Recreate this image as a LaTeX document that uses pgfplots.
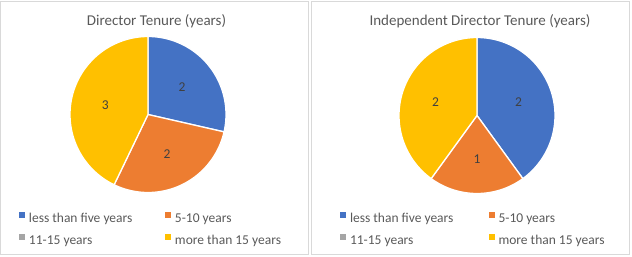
\documentclass[border=0pt]{standalone}
\usepackage{pgfplots}
\pgfplotsset{compat=1.18}
\usepackage{pgfplotstable}
\usepackage{fontspec}
\setmainfont{Carlito}
\definecolor{cBlue}{HTML}{4472C4}
\definecolor{cOrange}{HTML}{ED7D31}
\definecolor{cGray}{HTML}{A5A5A5}
\definecolor{cYellow}{HTML}{FFC000}
\definecolor{txt}{HTML}{595959}
\definecolor{lbl}{HTML}{404040}
\definecolor{frm}{HTML}{D9D9D9}

% Director tenure (all directors)
\pgfplotstableread{
category value
less 2
five 2
eleven 0
more 3
}\tenureall
% Independent director tenure
\pgfplotstableread{
category value
less 2
five 1
eleven 0
more 2
}\tenureindep

\newcommand\getvals[1]{%
  \pgfplotstablegetelem{0}{value}\of#1\edef\vA{\pgfplotsretval}%
  \pgfplotstablegetelem{1}{value}\of#1\edef\vB{\pgfplotsretval}%
  \pgfplotstablegetelem{2}{value}\of#1\edef\vC{\pgfplotsretval}%
  \pgfplotstablegetelem{3}{value}\of#1\edef\vD{\pgfplotsretval}%
  \pgfmathsetmacro\tot{\vA+\vB+\vC+\vD}%
  \pgfmathsetmacro\aA{90}%
  \pgfmathsetmacro\aB{\aA-360*\vA/\tot}%
  \pgfmathsetmacro\aC{\aB-360*\vB/\tot}%
  \pgfmathsetmacro\aD{\aC-360*\vC/\tot}%
  \pgfmathsetmacro\aE{\aD-360*\vD/\tot}%
  \pgfmathsetmacro\mA{(\aA+\aB)/2}%
  \pgfmathsetmacro\mB{(\aB+\aC)/2}%
  \pgfmathsetmacro\mD{(\aD+\aE)/2}%
}

\pgfplotsset{
  piestyle/.style={
    x=78bp, y=78bp, xmin=-1, xmax=1, ymin=-1, ymax=1,
    hide axis, clip=false, anchor=origin,
    legend columns=2,
    legend cell align=left,
    legend image code/.code={\fill[##1,draw=none] (0bp,1bp) rectangle (6bp,7bp);},
    legend style={draw=none, fill=none, inner sep=0pt, outer sep=0pt,
      font=\fontsize{13.5bp}{15bp}\selectfont, text=txt,
      nodes={inner sep=0pt, text height=9.5bp, text depth=3bp},
      row sep=9bp,
      /tikz/every odd column/.append style={column sep=4bp},
      anchor=north west},
  },
  wedge/.style={draw=white, line width=1.3bp, line join=round, samples=90},
}

\newcommand\lbl[2]{\node[font=\fontsize{13.5bp}{15bp}\selectfont, text=lbl] at (axis cs:{0.56*cos(#1)},{0.56*sin(#1)}) {#2};}

\begin{document}
\begin{tikzpicture}
\path (0bp,0bp) rectangle (632bp,-257bp);
\draw[frm, line width=0.8bp] (0.5bp,-1bp) rectangle (308.5bp,-254.5bp);
\draw[frm, line width=0.8bp] (311.5bp,-1bp) rectangle (629bp,-254.5bp);

\node[font=\fontsize{15bp}{18bp}\selectfont, text=txt, anchor=base] at (156.5bp,-25bp) {Director Tenure (years)};
\node[font=\fontsize{15bp}{18bp}\selectfont, text=txt, anchor=base] at (480bp,-25bp) {Independent Director Tenure (years)};

\getvals{\tenureall}
\begin{axis}[piestyle, at={(148bp,-114.5bp)},
  legend style={at={(axis cs:-1.654,-1.25)}}]
\addplot[wedge, fill=cBlue, domain=\aB:\aA] ({cos(x)},{sin(x)}) -- (axis cs:0,0) -- cycle;
\addlegendentry{\makebox[136bp][l]{less than five years}}
\addplot[wedge, fill=cOrange, domain=\aC:\aB] ({cos(x)},{sin(x)}) -- (axis cs:0,0) -- cycle;
\addlegendentry{5-10 years}
\addlegendimage{fill=cGray}
\addlegendentry{11-15 years}
\addplot[wedge, fill=cYellow, domain=\aE:\aD] ({cos(x)},{sin(x)}) -- (axis cs:0,0) -- cycle;
\addlegendentry{more than 15 years}
\lbl{\mA}{\vA}
\lbl{\mB}{\vB}
\lbl{\mD}{\vD}
\end{axis}

\getvals{\tenureindep}
\begin{axis}[piestyle, at={(477bp,-115.5bp)},
  legend style={at={(axis cs:-1.756,-1.24)}}]
\addplot[wedge, fill=cBlue, domain=\aB:\aA] ({cos(x)},{sin(x)}) -- (axis cs:0,0) -- cycle;
\addlegendentry{\makebox[138.5bp][l]{less than five years}}
\addplot[wedge, fill=cOrange, domain=\aC:\aB] ({cos(x)},{sin(x)}) -- (axis cs:0,0) -- cycle;
\addlegendentry{5-10 years}
\addlegendimage{fill=cGray}
\addlegendentry{11-15 years}
\addplot[wedge, fill=cYellow, domain=\aE:\aD] ({cos(x)},{sin(x)}) -- (axis cs:0,0) -- cycle;
\addlegendentry{more than 15 years}
\lbl{\mA}{\vA}
\lbl{\mB}{\vB}
\lbl{\mD}{\vD}
\end{axis}
\end{tikzpicture}
\end{document}
